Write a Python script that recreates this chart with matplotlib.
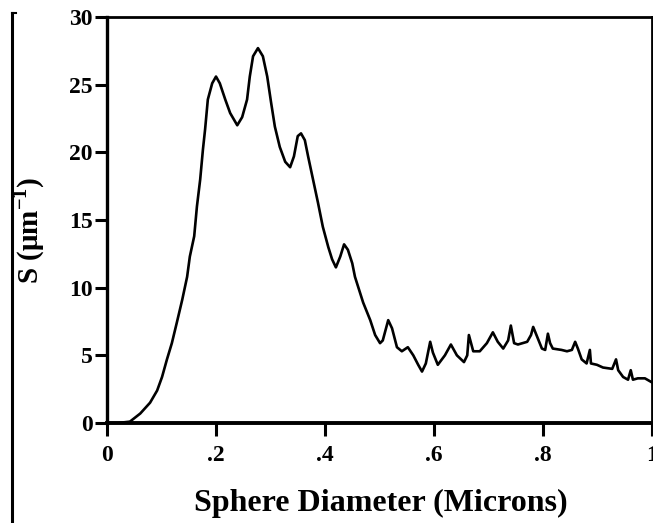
import matplotlib
matplotlib.use("Agg")
import matplotlib.pyplot as plt
from matplotlib.lines import Line2D

diameter = [0.0, 0.02, 0.042, 0.061, 0.079, 0.092, 0.101, 0.110, 0.119, 0.128,
            0.138, 0.147, 0.152, 0.160, 0.165, 0.171, 0.176, 0.180, 0.185, 0.193, 0.200,
            0.207, 0.217, 0.226, 0.239, 0.248, 0.257, 0.262, 0.268, 0.277, 0.286,
            0.294, 0.301, 0.308, 0.317, 0.327, 0.336, 0.343, 0.350, 0.356, 0.363,
            0.369, 0.378, 0.387, 0.396, 0.406, 0.413, 0.420, 0.428, 0.435, 0.442,
            0.450, 0.455, 0.470, 0.483, 0.492, 0.501, 0.506, 0.516, 0.523, 0.532,
            0.541, 0.552, 0.562, 0.571, 0.578, 0.585, 0.593, 0.598, 0.607, 0.620,
            0.631, 0.642, 0.655, 0.661, 0.664, 0.672, 0.684, 0.697, 0.708, 0.717,
            0.727, 0.736, 0.741, 0.747, 0.754, 0.771, 0.778, 0.782, 0.789, 0.798,
            0.804, 0.809, 0.813, 0.818, 0.834, 0.844, 0.853, 0.859, 0.864, 0.871,
            0.880, 0.886, 0.888, 0.899, 0.910, 0.927, 0.934, 0.938, 0.947, 0.956,
            0.961, 0.965, 0.974, 0.987, 1.0]
S_values = [0.0, 0.0, 0.1, 0.7, 1.5, 2.4, 3.4, 4.7, 5.9, 7.4,
            9.1, 10.8, 12.3, 13.8, 16.0, 18.0, 20.2, 21.7, 23.9, 25.1, 25.6,
            25.1, 23.9, 22.9, 22.0, 22.6, 23.9, 25.6, 27.1, 27.7, 27.1,
            25.6, 23.7, 21.9, 20.4, 19.3, 18.9, 19.7, 21.2, 21.4, 20.9,
            19.7, 18.0, 16.3, 14.5, 13.0, 12.1, 11.5, 12.3, 13.2, 12.8,
            11.8, 10.8, 8.9, 7.6, 6.5, 5.9, 6.1, 7.6, 7.0, 5.6,
            5.3, 5.6, 5.0, 4.3, 3.8, 4.4, 6.0, 5.2, 4.3, 5.0,
            5.8, 5.0, 4.5, 5.0, 6.5, 5.3, 5.3, 5.9, 6.7, 6.0,
            5.5, 6.1, 7.2, 5.9, 5.8, 6.0, 6.5, 7.1, 6.4, 5.5,
            5.4, 6.6, 5.9, 5.5, 5.4, 5.3, 5.4, 6.0, 5.5, 4.7,
            4.4, 5.4, 4.4, 4.3, 4.1, 4.0, 4.7, 3.9, 3.4, 3.2,
            3.9, 3.2, 3.3, 3.3, 3.0]

x_ticks = [0, 0.2, 0.4, 0.6, 0.8, 1.0]
x_tick_labels = ["0", ".2", ".4", ".6", ".8", "1"]
y_ticks = [0, 5, 10, 15, 20, 25, 30]
y_tick_labels = ["0", "5", "10", "15", "20", "25", "30"]

plt.rcParams['font.family'] = ['Liberation Serif', 'DejaVu Serif']
plt.rcParams['font.weight'] = 'bold'
plt.rcParams['mathtext.fontset'] = 'custom'
plt.rcParams['mathtext.rm'] = 'Liberation Serif:bold'
plt.rcParams['mathtext.bf'] = 'Liberation Serif:bold'

fig = plt.figure(figsize=(6.53, 5.23), dpi=100)
W, H = 653, 523
ax = fig.add_axes([107 / W, 1 - 423 / H, (652 - 107) / W, (423 - 17) / H])
ax.plot(diameter, S_values, color='black', linewidth=1.9, solid_joinstyle='round')
ax.set_xlim(0, 1)
ax.set_ylim(0, 30)
ax.set_xticks(x_ticks)
ax.set_xticklabels(x_tick_labels)
ax.set_yticks(y_ticks)
ax.set_yticklabels(y_tick_labels)
for s in ax.spines.values():
    s.set_linewidth(2.0)
ax.spines['bottom'].set_linewidth(2.8)
ax.spines['left'].set_linewidth(2.4)
ax.tick_params(direction='out', length=9, width=2.2, labelsize=17)
ax.tick_params(axis='y', pad=1.5)
ax.tick_params(axis='x', pad=7)
for lab in ax.get_xticklabels() + ax.get_yticklabels():
    lab.set_fontweight('bold')
ax.set_xlabel("Sphere Diameter (Microns)", fontsize=23, fontweight='bold')
ax.set_ylabel("S (μm$^{\\mathrm{-1}}$)", fontsize=21, fontweight='bold')
ax.xaxis.set_label_coords(0.5 + (381 - 379.5) / 545, (423 - 489) / 406)
ax.yaxis.set_label_coords((47 - 107) / 545, (423 - 230) / 406)

fig.add_artist(Line2D([12 / W, 12 / W], [0, 1 - 13 / H], color='black', linewidth=2.2,
                      transform=fig.transFigure))
fig.add_artist(Line2D([12 / W, 16 / W], [1 - 13 / H, 1 - 13 / H], color='black', linewidth=1.5,
                      transform=fig.transFigure))

fig.savefig("out.png", dpi=100)
